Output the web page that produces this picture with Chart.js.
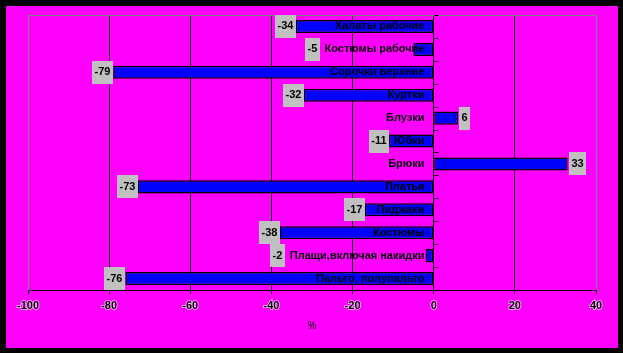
<!DOCTYPE html>
<html>
<head>
<meta charset="utf-8">
<script src="https://cdn.jsdelivr.net/npm/chart.js@4"></script>
<style>
  html, body { margin: 0; padding: 0; background: #000; }
  #wrap { position: absolute; left: 6px; top: 6px; width: 612px; height: 342px; background: #ff00ff; }
</style>
</head>
<body>
<div id="wrap"><canvas id="chart"></canvas></div>
<script>
// Data
var categories = [
  "Халаты рабочие", "Костюмы рабочие", "Сорочки верхние", "Куртки",
  "Блузки", "Юбки", "Брюки", "Платья", "Пиджаки", "Костюмы",
  "Плащи,включая накидки", "Пальто, полупальто"
];
var values = [-34, -5, -79, -32, 6, -11, 33, -73, -17, -38, -2, -76];
var xMin = -100;
var xMax = 40;
var xStep = 20;
var axisTitle = "%";

var FONT = "'Liberation Sans', Arial, sans-serif";

// Category names next to the zero line, value labels in grey boxes.
var labelPlugin = {
  id: "labelPlugin",
  beforeDatasetsDraw: function (chart) {
    var ctx = chart.ctx;
    var area = chart.chartArea;
    ctx.save();
    ctx.strokeStyle = "#808080";
    ctx.lineWidth = 1;
    ctx.beginPath();
    ctx.moveTo(area.left, area.top + 0.5);
    ctx.lineTo(area.right, area.top + 0.5);
    ctx.stroke();
    ctx.restore();
  },
  afterDatasetsDraw: function (chart) {
    var ctx = chart.ctx;
    var xs = chart.scales.x;
    var ys = chart.scales.y;
    var zeroX = Math.round(xs.getPixelForValue(0)) + 0.5;
    var meta = chart.getDatasetMeta(0);
    var step = ys.getPixelForValue(1) - ys.getPixelForValue(0);
    ctx.save();

    // small ticks on the zero line between categories
    ctx.strokeStyle = "#000";
    ctx.lineWidth = 1;
    ctx.beginPath();
    for (var k = 0; k <= categories.length; k++) {
      var ty = Math.round(ys.getPixelForValue(k) - step / 2) + 0.5;
      ctx.moveTo(zeroX, ty);
      ctx.lineTo(zeroX + 4, ty);
    }
    ctx.stroke();

    ctx.textBaseline = "middle";
    for (var i = 0; i < categories.length; i++) {
      var y = ys.getPixelForValue(i);
      ctx.font = "bold 11px " + FONT;
      ctx.textAlign = "right";
      ctx.fillStyle = "#000";
      var labelRight = zeroX - 10;
      ctx.fillText(categories[i], labelRight, y);
      var labelLeft = labelRight - ctx.measureText(categories[i]).width;

      var bar = meta.data[i];
      var txt = String(values[i]);
      var tw = ctx.measureText(txt).width;
      var bw = Math.round(tw + 5);
      var bh = 23;
      var bx;
      if (values[i] < 0) {
        bx = Math.min(bar.x, labelLeft - 5) - bw;
      } else {
        bx = bar.x + 1;
      }
      ctx.fillStyle = "#c0c0c0";
      ctx.fillRect(Math.round(bx), Math.round(y - bh / 2), bw, bh);
      ctx.fillStyle = "#000";
      ctx.textAlign = "center";
      ctx.fillText(txt, Math.round(bx) + bw / 2, y);
    }
    ctx.restore();
  }
};

var chart = new Chart(document.getElementById("chart"), {
  type: "bar",
  data: {
    labels: categories,
    datasets: [{
      data: values,
      backgroundColor: "#0000ff",
      borderColor: "#000",
      borderWidth: 1.5,
      borderSkipped: false,
      barPercentage: 0.57,
      categoryPercentage: 1
    }]
  },
  options: {
    indexAxis: "y",
    responsive: true,
    maintainAspectRatio: false,
    animation: false,
    layout: { padding: { left: 22, right: 22, top: 9, bottom: 0 } },
    plugins: {
      legend: { display: false },
      tooltip: { enabled: false }
    },
    scales: {
      x: {
        type: "linear",
        min: xMin,
        max: xMax,
        afterFit: function (scale) { scale.height = 58; },
        ticks: {
          stepSize: xStep,
          color: "#000",
          padding: 5,
          font: { family: FONT, size: 11, weight: "bold" },
          textStrokeColor: "rgba(255,255,255,0.7)",
          textStrokeWidth: 1.5
        },
        grid: {
          color: function (c) {
            if (c.tick && (c.tick.value === xMin || c.tick.value === xMax)) return "#808080";
            return "#000";
          },
          tickColor: "#000",
          tickLength: 4,
          lineWidth: 1
        },
        border: { color: "#000", width: 1 },
        title: {
          display: true,
          text: axisTitle,
          color: "#000",
          font: { family: FONT, size: 10 },
          padding: { top: 0, bottom: 16 }
        }
      },
      y: {
        display: false
      }
    }
  },
  plugins: [labelPlugin]
});
</script>
</body>
</html>
